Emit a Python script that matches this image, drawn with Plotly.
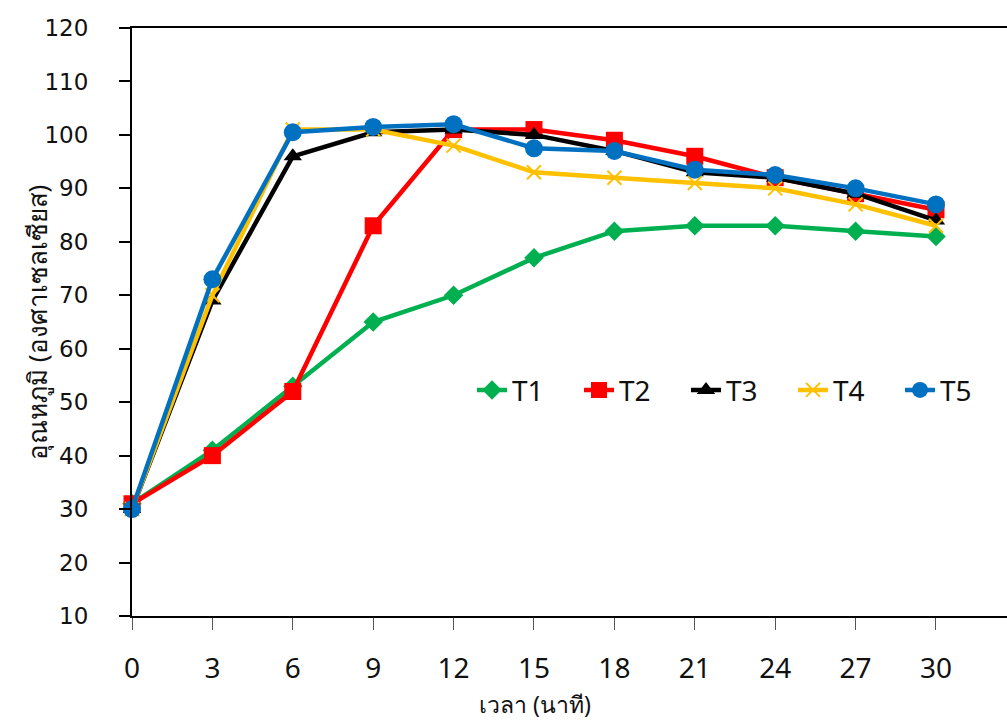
import plotly.graph_objects as go

# Time (minutes) and temperature (°C) for each treatment
minutes = [0, 3, 6, 9, 12, 15, 18, 21, 24, 27, 30]
t1 = [31, 41, 53, 65, 70, 77, 82, 83, 83, 82, 81]
t2 = [31, 40, 52, 83, 101, 101, 99, 96, 92, 89, 86]
t3 = [30, 69, 96, 100.5, 101, 100, 97, 93, 92, 89, 84]
t4 = [30, 70, 101, 101, 98, 93, 92, 91, 90, 87, 83]
t5 = [30, 73, 100.5, 101.5, 102, 97.5, 97, 93.5, 92.5, 90, 87]

x_title = "เวลา (นาที)"
y_title = "อุณหภูมิ (องศาเซลเซียส)"

series = [
    ("T1", t1, "#00B050", "diamond", 15),
    ("T2", t2, "#FF0000", "square", 17),
    ("T3", t3, "#000000", "triangle-up", 16),
    ("T4", t4, "#FFC000", "x-thin-open", 14),
    ("T5", t5, "#0070C0", "circle", 18),
]

fig = go.Figure()
for name, vals, color, sym, size in series:
    marker = dict(symbol=sym, size=size, color=color)
    if sym.endswith("open"):
        marker["line"] = dict(color=color, width=2)
    fig.add_trace(go.Scatter(
        x=minutes, y=vals, name=name, mode="lines+markers",
        line=dict(color=color, width=4.5),
        marker=marker, cliponaxis=False,
    ))

fig.update_layout(
    width=1007, height=727,
    margin=dict(l=132, r=0, t=28, b=111),
    paper_bgcolor="white", plot_bgcolor="white",
    font=dict(family="Noto Sans, Liberation Sans, sans-serif", color="#111111", size=22),
    legend=dict(
        orientation="h", x=1, y=0.384, xanchor="right", yanchor="middle",
        font=dict(size=28), entrywidth=62, entrywidthmode="pixels",
        bgcolor="rgba(0,0,0,0)", borderwidth=0,
    ),
    annotations=[
        # axis titles placed as free text so they can sit off-centre
        dict(text=x_title, xref="paper", yref="paper", x=0.4606, y=-0.149,
             xanchor="center", yanchor="middle", showarrow=False,
             font=dict(size=23)),
        dict(text=y_title, xref="paper", yref="paper", x=-0.1086, y=0.5,
             xanchor="center", yanchor="middle", showarrow=False,
             textangle=-90, font=dict(size=26)),
    ],
)
fig.update_xaxes(
    range=[0, 32.65], tickvals=minutes, ticktext=[str(m) for m in minutes],
    showline=True, linecolor="black", linewidth=2, mirror=True,
    ticks="outside", ticklen=12, tickwidth=1, tickcolor="#555555",
    ticklabelstandoff=14,
    showgrid=False, zeroline=False,
    tickfont=dict(size=28, family="Noto Sans, sans-serif"),
)
fig.update_yaxes(
    range=[10, 120], tickvals=list(range(10, 121, 10)),
    showline=True, linecolor="black", linewidth=2,
    ticks="outside", ticklen=11, tickwidth=2, tickcolor="black",
    ticklabelstandoff=26,
    showgrid=False, zeroline=False,
    tickfont=dict(size=23, family="DejaVu Sans, sans-serif"),
)

fig.write_html("out.html")
